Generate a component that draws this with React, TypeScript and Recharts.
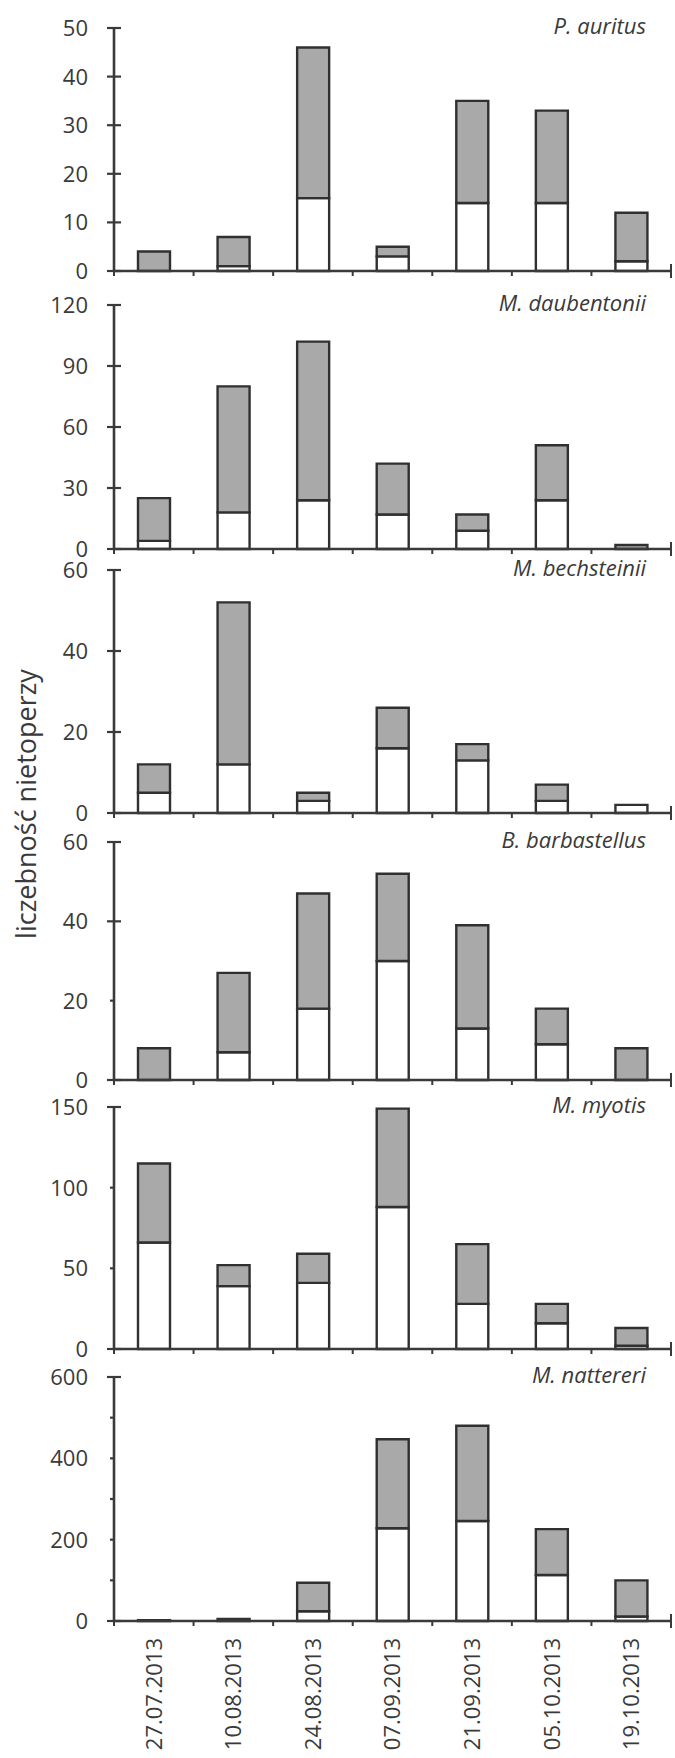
import React from 'react';
import { BarChart, Bar, XAxis, YAxis } from 'recharts';

const dates = ['27.07.2013', '10.08.2013', '24.08.2013', '07.09.2013', '21.09.2013', '05.10.2013', '19.10.2013'];

// each bar: white lower part + grey upper part
const auritusWhite = [0, 1, 15, 3, 14, 14, 2];
const auritusGrey = [4, 6, 31, 2, 21, 19, 10];
const daubentoniiWhite = [4, 18, 24, 17, 9, 24, 0];
const daubentoniiGrey = [21, 62, 78, 25, 8, 27, 2];
const bechsteiniiWhite = [5, 12, 3, 16, 13, 3, 2];
const bechsteiniiGrey = [7, 40, 2, 10, 4, 4, 0];
const barbastellusWhite = [0, 7, 18, 30, 13, 9, 0];
const barbastellusGrey = [8, 20, 29, 22, 26, 9, 8];
const myotisWhite = [66, 39, 41, 88, 28, 16, 2];
const myotisGrey = [49, 13, 18, 61, 37, 12, 11];
const nattereriWhite = [0, 0, 24, 228, 246, 113, 11];
const nattereriGrey = [2, 5, 70, 219, 234, 113, 89];

const panels = [
  { name: 'P. auritus', white: auritusWhite, grey: auritusGrey, max: 50, ticks: [0, 10, 20, 30, 40, 50], minor: [], unlabelled: [], top: 28, bottom: 271 },
  { name: 'M. daubentonii', white: daubentoniiWhite, grey: daubentoniiGrey, max: 120, ticks: [0, 30, 60, 90, 120], minor: [], unlabelled: [], top: 304.5, bottom: 548.5 },
  { name: 'M. bechsteinii', white: bechsteiniiWhite, grey: bechsteiniiGrey, max: 60, ticks: [0, 20, 40, 60], minor: [], unlabelled: [], top: 570, bottom: 813 },
  { name: 'B. barbastellus', white: barbastellusWhite, grey: barbastellusGrey, max: 60, ticks: [0, 20, 40, 60], minor: [20], unlabelled: [], top: 842, bottom: 1080 },
  { name: 'M. myotis', white: myotisWhite, grey: myotisGrey, max: 150, ticks: [0, 50, 100, 150], minor: [50, 100], unlabelled: [], top: 1107, bottom: 1349 },
  { name: 'M. nattereri', white: nattereriWhite, grey: nattereriGrey, max: 600, ticks: [0, 100, 200, 300, 400, 500, 600], minor: [100, 200, 300, 400, 500], unlabelled: [100, 300, 500], top: 1377, bottom: 1621 },
];

const W = 675;
const H = 1758;
const AXIS_X = 114;
const PLOT_RIGHT = 671;
const BAND = (PLOT_RIGHT - AXIS_X) / dates.length;
const PAD_TOP = 20;
const INK = '#3a3a3a';
const BAR_LINE = '#303030';
const FONT = '"Open Sans", sans-serif';

const CountTick = (props: any) => {
  const { x, y, payload, minor, unlabelled } = props;
  const v = payload.value;
  const small = minor.includes(v);
  return (
    <g>
      <line x1={small ? x - 4 : x - 7} x2={small ? x : x + 7} y1={y} y2={y} stroke={INK} strokeWidth={2.2} />
      {!unlabelled.includes(v) && (
        <text x={x - 26} y={y} dy="0.36em" textAnchor="end" fontSize={22} fill={INK} fontFamily={FONT}>
          {v}
        </text>
      )}
    </g>
  );
};

const DateTick = (props: any) => {
  const { x, y, payload, index, showLabel } = props;
  const right = x + BAND / 2;
  const isEnd = index === dates.length - 1;
  return (
    <g>
      {index === 0 && <line x1={x - BAND / 2} x2={x - BAND / 2} y1={y} y2={y + 5} stroke={INK} strokeWidth={2} />}
      <line x1={right} x2={right} y1={isEnd ? y - 7 : y} y2={isEnd ? y + 7 : y + 5} stroke={INK} strokeWidth={2} />
      {showLabel && (
        <text
          transform={`translate(${x},${y + 17}) rotate(-90)`}
          dy="0.36em"
          textAnchor="end"
          fontSize={22}
          fill={INK}
          fontFamily={FONT}
        >
          {payload.value}
        </text>
      )}
    </g>
  );
};

const Panel = ({ p, last }: { p: any; last: boolean }) => {
  const data = dates.map((d, i) => ({ date: d, white: p.white[i], grey: p.grey[i] }));
  const xh = last ? H - p.bottom : 16;
  const height = PAD_TOP + (p.bottom - p.top) + xh;
  return (
    <div style={{ position: 'absolute', left: 0, top: p.top - PAD_TOP, width: W, height }}>
      <BarChart
        width={W}
        height={height}
        data={data}
        margin={{ top: PAD_TOP, right: W - PLOT_RIGHT, bottom: 0, left: 0 }}
        barSize={32}
      >
        <XAxis
          dataKey="date"
          height={xh}
          interval={0}
          tickLine={false}
          tickSize={0}
          tickMargin={0}
          axisLine={{ stroke: INK, strokeWidth: 2.6 }}
          tick={(t: any) => <DateTick {...t} showLabel={last} />}
        />
        <YAxis
          width={AXIS_X}
          domain={[0, p.max]}
          ticks={p.ticks}
          interval={0}
          tickLine={false}
          tickSize={0}
          tickMargin={0}
          axisLine={{ stroke: INK, strokeWidth: 2.6 }}
          tick={(t: any) => <CountTick {...t} minor={p.minor} unlabelled={p.unlabelled} />}
        />
        <Bar dataKey="white" stackId="s" fill="#ffffff" stroke={BAR_LINE} strokeWidth={2.4} isAnimationActive={false} />
        <Bar dataKey="grey" stackId="s" fill="#a9a9a9" stroke={BAR_LINE} strokeWidth={2.4} isAnimationActive={false} />
      </BarChart>
      <div
        style={{
          position: 'absolute',
          right: W - 646,
          top: PAD_TOP - 18,
          fontFamily: FONT,
          fontStyle: 'italic',
          fontSize: 22,
          lineHeight: '30px',
          color: INK,
          whiteSpace: 'nowrap',
        }}
      >
        {p.name}
      </div>
    </div>
  );
};

export default function App() {
  return (
    <div style={{ position: 'absolute', left: 0, top: 0, width: W, height: H, background: '#fff', overflow: 'hidden' }}>
      {panels.map((p, i) => (
        <Panel key={p.name} p={p} last={i === panels.length - 1} />
      ))}
      <div
        style={{
          position: 'absolute',
          left: 25,
          top: 804,
          transform: 'translate(-50%, -50%) rotate(-90deg)',
          fontFamily: FONT,
          fontSize: 27,
          color: INK,
          whiteSpace: 'nowrap',
        }}
      >
        liczebność nietoperzy
      </div>
    </div>
  );
}
